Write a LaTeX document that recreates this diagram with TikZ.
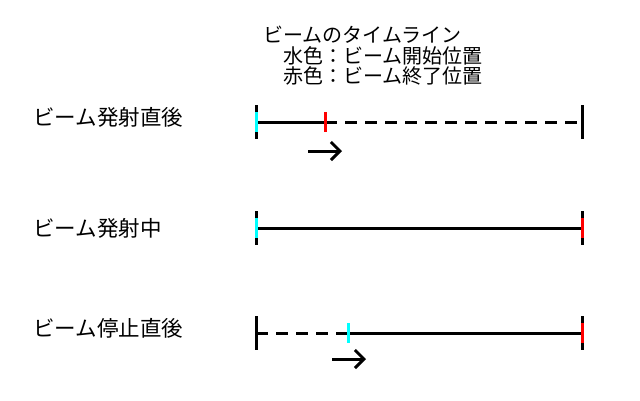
\documentclass[tikz,border=0pt]{standalone}
\usepackage{fontspec}
\setmainfont{Noto Sans CJK JP}
\usetikzlibrary{arrows.meta}
\definecolor{beamstart}{RGB}{0,255,255}
\definecolor{beamend}{RGB}{255,0,0}
\tikzset{
    rowtext/.style={anchor=west, inner sep=0pt, font=\fontsize{20}{22}\selectfont},
    rowname/.style={rowtext, font=\fontsize{21.5}{23}\selectfont},
    timeline/.style={line width=3pt},
    pending/.style={timeline, dash pattern=on 12pt off 8pt},
    bartick/.style={fill=black, minimum width=3pt, minimum height=34pt, inner sep=0pt, outer sep=0pt},
    starttick/.style={bartick, fill=beamstart, minimum height=20pt},
    endtick/.style={bartick, fill=beamend, minimum height=20pt},
    moving/.style={line width=3pt, -{Straight Barb[length=9pt,width=18pt]}}
}
\begin{document}
\begin{tikzpicture}[x=1pt, y=-1pt]
        \useasboundingbox (0,0) rectangle (640,400);

        % title
        \node[rowtext] (title) at (263, 35) {ビームのタイムライン};
        \node[rowtext] (legendA) at (283, 56) {水色：ビーム開始位置};
        \node[rowtext] (legendB) at (283, 76) {赤色：ビーム終了位置};

        % row 1
        \node[rowname] (name1) at (33, 117) {ビーム発射直後};
        \node[bartick] (s1) at (256, 122) {};
        \node[bartick] (e1) at (582, 122) {};
        \coordinate (m1) at (325, 122);
        \draw[timeline] (s1.center) -- (m1);
        \draw[pending] (m1) -- (e1.center);
        \node[starttick] (c1) at (s1) {};
        \node[endtick] (r1) at (m1) {};
        \coordinate (a1) at (308, 151);
        \coordinate (b1) at (342, 151);
        \draw[moving] (a1) -- (b1);

        % row 2
        \node[rowname] (name2) at (33, 228) {ビーム発射中};
        \node[bartick] (s2) at (256, 228) {};
        \node[bartick] (e2) at (582, 228) {};
        \draw[timeline] (s2.center) -- (e2.center);
        \node[starttick] (c2) at (s2) {};
        \node[endtick] (r2) at (e2) {};

        % row 3
        \node[rowname] (name3) at (33, 328) {ビーム停止直後};
        \node[bartick] (s3) at (256, 333) {};
        \node[bartick] (e3) at (582, 333) {};
        \coordinate (m3) at (348, 333);
        \draw[pending] (s3.center) -- (m3);
        \draw[timeline] (m3) -- (e3.center);
        \node[starttick] (c3) at (m3) {};
        \node[endtick] (r3) at (e3) {};
        \coordinate (a3) at (332, 359);
        \coordinate (b3) at (366, 359);
        \draw[moving] (a3) -- (b3);

    \end{tikzpicture}
\end{document}
